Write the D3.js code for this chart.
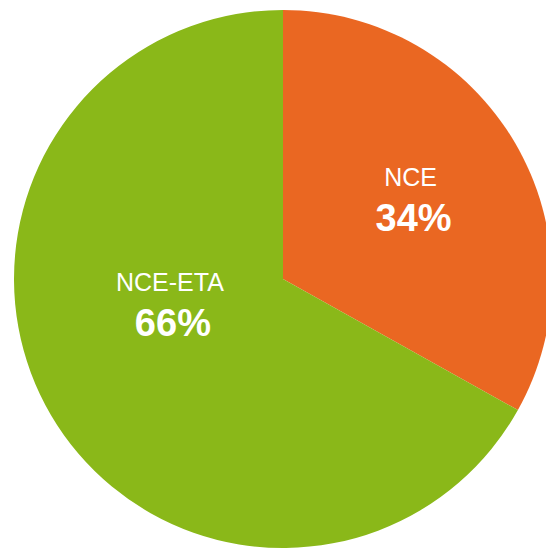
<!DOCTYPE html>
<html>
<head>
<meta charset="utf-8">
<script src="https://cdn.jsdelivr.net/npm/d3@7"></script>
<style>
  body { margin: 0; background: #fff; }
  svg { display: block; }
</style>
</head>
<body>
<svg id="drawing_region"></svg>
<script>
const categories = ["NCE", "NCE-ETA"];
const values = [33.1, 66.9];
const percentLabels = ["34%", "66%"];
const colors = ["#EA6722", "#8AB819"];

var config = {
    parent: '#drawing_region',
    width: 546,
    height: 550,
    cx: 283,
    cy: 279,
    radius: 269
};

// label placement (angle shift in degrees, distance from centre)
const labelShift = [-1.3, 17.6];
const labelDist = [150, 116];

const data = categories.map((c, i) => ({ label: c, value: values[i], pct: percentLabels[i], color: colors[i] }));

const svg = d3.select(config.parent)
    .attr('width', config.width)
    .attr('height', config.height);

const chart = svg.append('g')
    .attr('transform', `translate(${config.cx}, ${config.cy})`);

const pie = d3.pie()
    .value(d => d.value)
    .sort(null);

const arc = d3.arc()
    .innerRadius(0)
    .outerRadius(config.radius);

const arcs = pie(data);

chart.selectAll('path')
    .data(arcs)
    .enter()
    .append('path')
    .attr('d', arc)
    .style('fill', d => d.data.color);

const labels = chart.selectAll('g.label')
    .data(arcs)
    .enter()
    .append('g')
    .attr('class', 'label')
    .attr('transform', (d, i) => {
        const a = (d.startAngle + d.endAngle) / 2 + labelShift[i] * Math.PI / 180;
        const p = d3.pointRadial(a, labelDist[i]);
        return `translate(${p[0]}, ${p[1]})`;
    })
    .style('font-family', '"Liberation Sans", Arial, sans-serif')
    .style('fill', '#fff')
    .attr('text-anchor', 'middle');

labels.append('text')
    .attr('y', -14)
    .attr('font-size', 25)
    .text(d => d.data.label);

labels.append('text')
    .attr('x', 3)
    .attr('y', 31)
    .attr('font-size', 38)
    .attr('font-weight', 'bold')
    .text(d => d.data.pct);
</script>
</body>
</html>
